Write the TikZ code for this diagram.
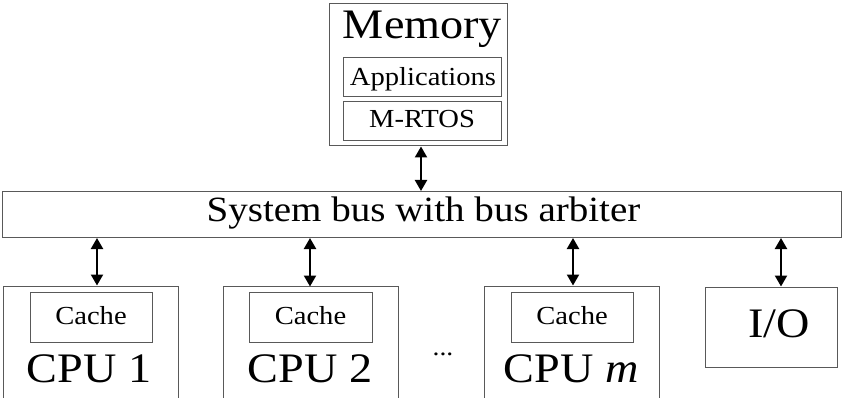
\documentclass[tikz,border=0pt]{standalone}
\usepackage{fontspec}
\setmainfont[FakeStretch=1.1]{Liberation Serif}
\usetikzlibrary{arrows.meta}

\newcommand{\fs}[1]{\fontsize{#1}{#1}\selectfont}

\tikzset{
  box/.style={draw=black!65, line width=1pt, inner sep=0pt},
  lbl/.style={inner sep=0pt, anchor=base, text=black},
  link/.style={line width=2.2pt, {Triangle[length=11pt,width=12pt]}-{Triangle[length=11pt,width=12pt]}, shorten <=0.5pt, shorten >=0.5pt}
}

\begin{document}
\begin{tikzpicture}[x=1pt, y=-1pt]
\useasboundingbox (0,0) rectangle (843,398);
\clip (0,0) rectangle (843,398);

% main memory with its contents
\node[box, minimum width=178pt, minimum height=142pt] (mem) at (418,75) {};
\node[lbl] (memlbl) at (422.5,39) {\fs{42}Memory};
\node[box, minimum width=158pt, minimum height=39pt] (apps) at (422,77.5) {};
\node[lbl] (appslbl) at (423,86) {\fs{26}Applications};
\node[box, minimum width=158pt, minimum height=39pt] (rtos) at (422,121.5) {};
\node[lbl] (rtoslbl) at (422,128) {\fs{26}M-RTOS};

% shared bus
\node[box, minimum width=839pt, minimum height=45pt] (bus) at (421.5,214.5) {};
\node[lbl] (buslbl) at (423.5,222) {\fs{35.5}System bus with bus arbiter};

% processors
\node[box, minimum width=175pt, minimum height=144pt] (cpu1) at (90.5,358) {};
\node[box, minimum width=122pt, minimum height=50pt] (cache1) at (91,317) {};
\node[lbl] (cache1lbl) at (91,324) {\fs{26}Cache};
\node[lbl] (cpu1lbl) at (89,382) {\fs{42}CPU 1};

\node[box, minimum width=175pt, minimum height=144pt] (cpu2) at (310.5,358) {};
\node[box, minimum width=123pt, minimum height=50pt] (cache2) at (310.5,317) {};
\node[lbl] (cache2lbl) at (310.5,324) {\fs{26}Cache};
\node[lbl] (cpu2lbl) at (310,382) {\fs{42}CPU 2};

\node[lbl] (dots) at (443,355) {\fs{25}...};

\node[box, minimum width=175pt, minimum height=144pt] (cpum) at (571.5,358) {};
\node[box, minimum width=122pt, minimum height=50pt] (cachem) at (572,317) {};
\node[lbl] (cachemlbl) at (572,324) {\fs{26}Cache};
\node[lbl] (cpumlbl) at (571,382) {\fs{42}CPU \textit{m}};

% peripheral
\node[box, minimum width=132pt, minimum height=80pt] (io) at (771,327) {};
\node[lbl] (iolbl) at (779,337) {\fs{42}I/O};

% attachment points on the bus
\coordinate (memport) at (421,146);
\coordinate (p1) at (97,286);
\coordinate (p2) at (310,287);
\coordinate (pm) at (573,286);
\coordinate (pio) at (781,287);

\draw[link] (memport) -- (memport |- bus.north);
\draw[link] (p1 |- bus.south) -- (p1);
\draw[link] (p2 |- bus.south) -- (p2);
\draw[link] (pm |- bus.south) -- (pm);
\draw[link] (pio |- bus.south) -- (pio);
\end{tikzpicture}
\end{document}
